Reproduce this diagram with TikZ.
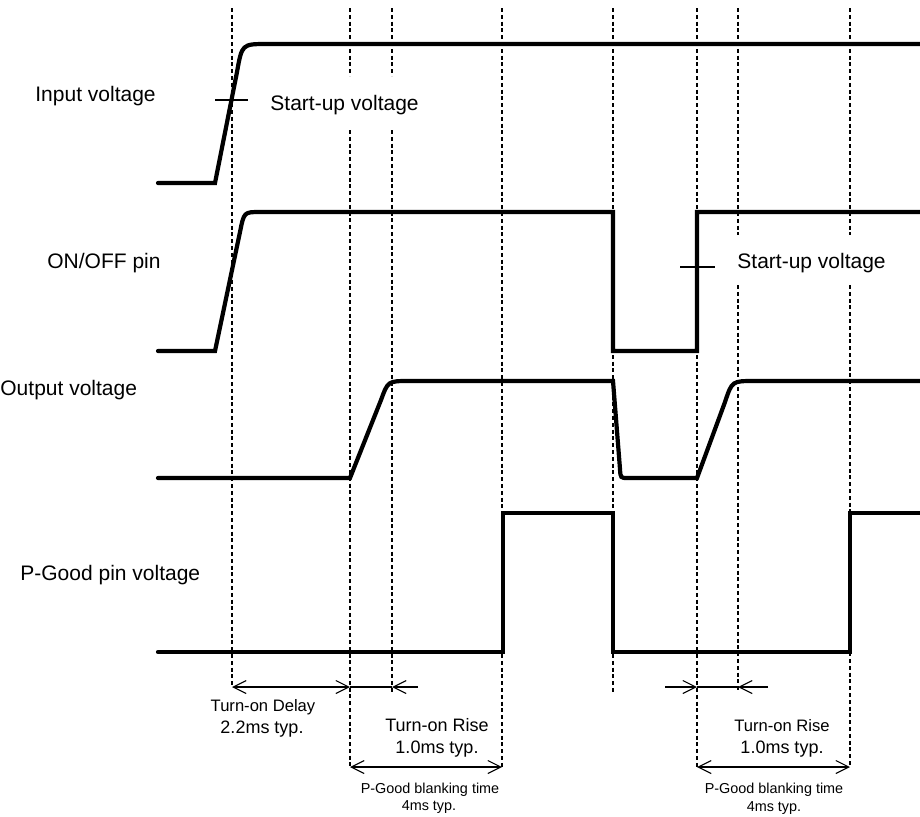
\documentclass[tikz,border=0pt]{standalone}
\usepackage{fontspec}
\setmainfont{Liberation Sans}
\usetikzlibrary{arrows.meta}

\begin{document}
\begin{tikzpicture}[
  x=0.5pt, y=-0.5pt,
  >={Straight Barb[length=6.5pt,width=6.5pt]},
  sig/.style={line width=2.1pt, line cap=round},
  guide/.style={line width=1.1pt, dash pattern=on 2pt off 1.4pt},
  dim/.style={line width=0.55pt},
  lbl/.style={font=\fontsize{10.5}{12}\selectfont, inner sep=0pt, anchor=base west},
  note/.style={inner sep=0pt, anchor=base},
  small/.style={note, font=\fontsize{8.3}{10}\selectfont},
  mid/.style={note, font=\fontsize{9}{11}\selectfont},
  tiny/.style={note, font=\fontsize{7.2}{9}\selectfont}
]
  \useasboundingbox (0,0) rectangle (920,816);

  \foreach \x/\yb in {232/687, 502/767, 613/692, 697/767}
    \draw[guide] (\x,8) -- (\x,\yb);
  \foreach \x in {350,392}
    \draw[guide] (\x,8) -- (\x,76);
  \draw[guide] (350,130) -- (350,767);
  \draw[guide] (392,130) -- (392,693);
  \foreach \x in {738,850}
    \draw[guide] (\x,8) -- (\x,235);
  \draw[guide] (738,285) -- (738,692);
  \draw[guide] (850,285) -- (850,767);

  \node[lbl] (vin) at (35,101) {Input voltage};
  \node[lbl] (onoff) at (47,268) {ON/OFF pin};
  \node[lbl] (vout) at (0,395) {Output voltage};
  \node[lbl] (pgood) at (20,580) {P-Good pin voltage};
  \node[lbl] (su1) at (270,110) {Start-up voltage};
  \node[lbl] (su2) at (737,268) {Start-up voltage};

  \draw[sig] (158,183) -- (215,183) -- (237,72) .. controls (242,44) .. (267,44) -- (920,44);
  \draw[sig] (158,351) -- (215,351) -- (240,232) .. controls (244,212) .. (260,212)
    -- (613,212) -- (613,351) -- (697,351) -- (697,212) -- (920,212);
  \draw[sig] (158,478) -- (350,478) -- (381,400) .. controls (388,381) .. (409,381)
    -- (613,381) -- (620,469) .. controls (620.5,478) .. (628,478) -- (697,478)
    -- (725,402) .. controls (732,381) .. (754,381) -- (920,381);
  \draw[sig] (158,652) -- (503,652) -- (503,513) -- (613,513) -- (613,652)
    -- (850,652) -- (850,513) -- (920,513);

  \draw[dim] (215,100) -- (248,100);
  \draw[dim] (680,267) -- (715,267);

  \draw[dim, <->] (232,687) -- (350,687);
  \draw[dim] (350,687) -- (392,687);
  \draw[dim, ->] (418,687) -- (392,687);
  \draw[dim, ->] (665,687) -- (697,687);
  \draw[dim] (697,687) -- (738,687);
  \draw[dim, ->] (768,687) -- (738,687);
  \draw[dim, <->] (350,767) -- (502,767);
  \draw[dim, <->] (697,767) -- (850,767);

  \node[small] (dly) at (263,711) {Turn-on Delay};
  \node[mid] (dlyv) at (262,733) {2.2ms typ.};
  \node[mid] (rise1) at (437,731) {Turn-on Rise};
  \node[mid] (rise1v) at (437,753) {1.0ms typ.};
  \node[tiny] (blk1) at (430,793) {P-Good blanking time};
  \node[tiny] (blk1v) at (429,810) {4ms typ.};
  \node[small] (rise2) at (782,731) {Turn-on Rise};
  \node[mid] (rise2v) at (782,753) {1.0ms typ.};
  \node[tiny] (blk2) at (774,793) {P-Good blanking time};
  \node[tiny] (blk2v) at (774,811) {4ms typ.};
\end{tikzpicture}
\end{document}
